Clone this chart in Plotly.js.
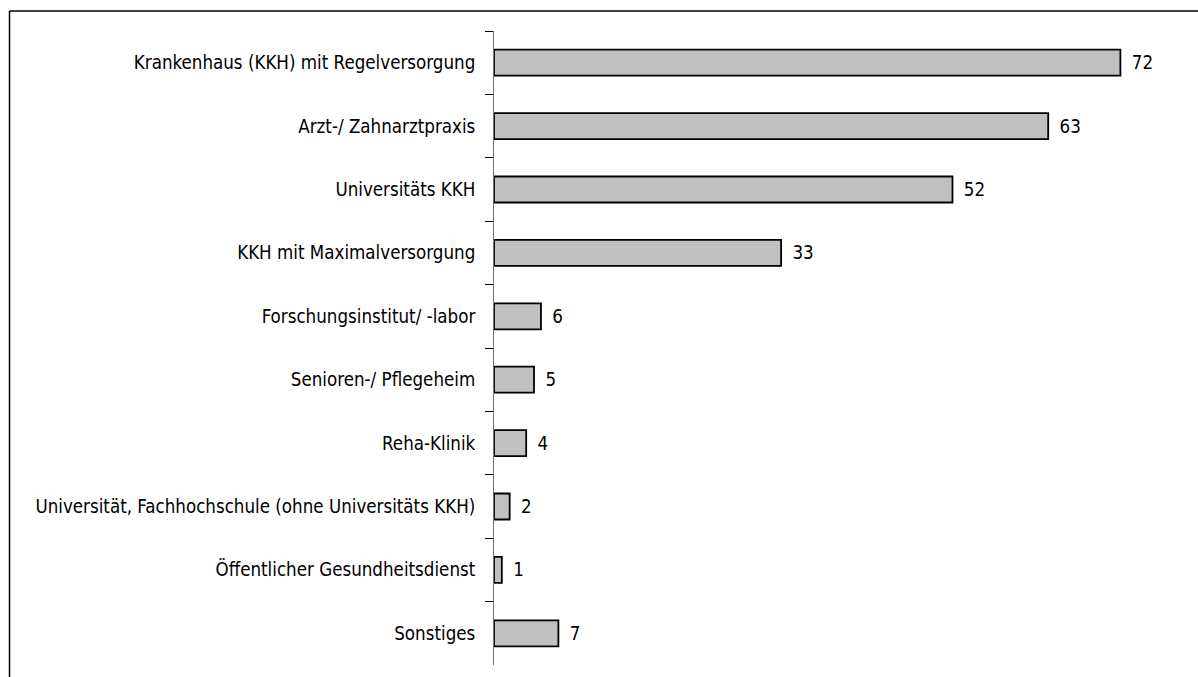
<!DOCTYPE html>
<html>
<head>
<meta charset="utf-8">
<script src="https://cdn.plot.ly/plotly-3.0.1.min.js"></script>
<style>html,body{margin:0;padding:0;background:#fff;}#chart{width:1198px;height:677px;}</style>
</head>
<body>
<div id="chart"></div>
<script>
const categories = [
  "Krankenhaus (KKH) mit Regelversorgung",
  "Arzt-/ Zahnarztpraxis",
  "Universitäts KKH",
  "KKH mit Maximalversorgung",
  "Forschungsinstitut/ -labor",
  "Senioren-/ Pflegeheim",
  "Reha-Klinik",
  "Universität, Fachhochschule (ohne Universitäts KKH)",
  "Öffentlicher Gesundheitsdienst",
  "Sonstiges"
];
const values = [72, 63.7, 52.7, 33, 5.4, 4.6, 3.7, 1.8, 0.9, 7.4];
const valueLabels = ["72", "63", "52", "33", "6", "5", "4", "2", "1", "7"];

const FONT = "'DejaVu Sans Condensed', 'Liberation Sans Narrow', 'Liberation Sans', Arial, sans-serif";

const trace = {
  type: "bar",
  orientation: "h",
  y: categories,
  x: values,
  text: valueLabels.map(s => "\u2002" + s),
  textposition: "outside",
  cliponaxis: false,
  textfont: {family: FONT, size: 18.6, color: "#000"},
  marker: {color: "#c0c0c0", line: {color: "#000", width: 1.8}},
  hoverinfo: "none"
};

const layout = {
  width: 1198,
  height: 677,
  margin: {l: 494, r: 8, t: 31, b: 12},
  paper_bgcolor: "#fff",
  plot_bgcolor: "#fff",
  showlegend: false,
  bargap: 0.59,
  font: {family: FONT, size: 18.6, color: "#000"},
  xaxis: {
    range: [0, 80],
    visible: false,
    fixedrange: true
  },
  yaxis: {
    type: "category",
    autorange: "reversed",
    showline: true,
    linecolor: "#707070",
    linewidth: 1,
    ticks: "outside",
    tickson: "boundaries",
    ticklen: 8,
    tickcolor: "#000",
    tickwidth: 1,
    showgrid: false,
    zeroline: false,
    ticklabelstandoff: 14,
    tickfont: {family: FONT, size: 18.6, color: "#000"}
  },
  shapes: [
    {type: "line", xref: "paper", yref: "paper",
     x0: (9.5 - 494) / 696, x1: 1.02, y0: (665 - 11) / 634, y1: (665 - 11) / 634,
     line: {color: "#000", width: 1.5}},
    {type: "line", xref: "paper", yref: "paper",
     x0: (9.5 - 494) / 696, x1: (9.5 - 494) / 696, y0: (665 - 11) / 634, y1: -0.05,
     line: {color: "#000", width: 1.5}}
  ]
};

Plotly.newPlot("chart", [trace], layout, {staticPlot: true, displayModeBar: false});
</script>
</body>
</html>
